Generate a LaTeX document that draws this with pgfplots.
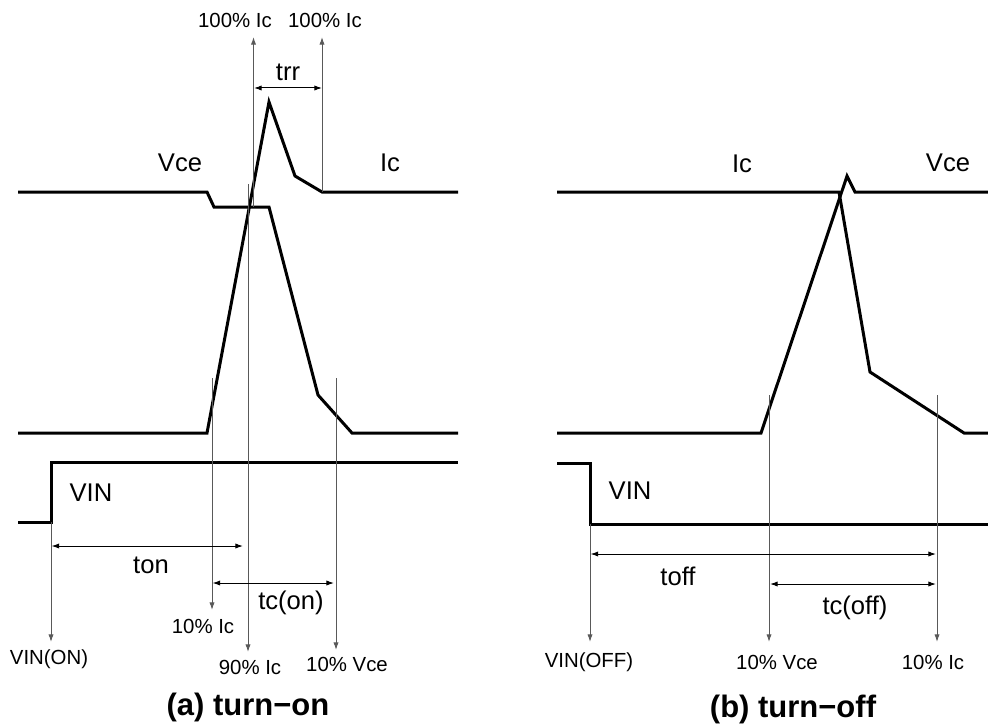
\documentclass[border=0pt]{standalone}
\usepackage{pgfplots}
\pgfplotsset{compat=1.18}
\usepackage{fontspec}
\setmainfont{Liberation Sans}
\usetikzlibrary{arrows.meta}
\begin{document}
\begin{tikzpicture}[
  wave/.style={black, line width=1.5pt, line join=miter},
  vl/.style={black!65, line width=0.5pt},
  arr/.style={-{Latex[length=3.8pt,width=2.6pt]}},
  darr/.style={{Latex[length=3.8pt,width=2.6pt]}-{Latex[length=3.8pt,width=2.6pt]}, black, line width=0.5pt},
  sm/.style={font=\fontsize{10.2}{12}\selectfont},
  md/.style={font=\fontsize{12.8}{15}\selectfont},
  ttl/.style={font=\fontsize{15.5}{18}\selectfont\bfseries},
]
\begin{axis}[name=ax, scale only axis, width=494pt, height=363.5pt,
  xmin=0, xmax=988, ymin=0, ymax=727, y dir=reverse,
  axis lines=none, clip=false]
% (a) turn-on
\addplot[wave] coordinates {(18,192) (207,192) (214,207) (269,207) (318,395) (352,433) (458,433)}; % Vce
\addplot[wave] coordinates {(18,433) (207,433) (269,102) (295,176) (322,192) (458,192)}; % Ic
\addplot[wave] coordinates {(18,522) (51,522) (51,462) (458,462)}; % VIN
% (b) turn-off
\addplot[wave] coordinates {(557,192) (839,192) (870,372) (964,433) (988,433)}; % Ic
\addplot[wave] coordinates {(557,433) (761,433) (847,176) (855,192) (988,192)}; % Vce
\addplot[wave] coordinates {(557,463) (590,463) (590,524) (988,524)}; % VIN

% markers, turn-on
\draw[vl,arr] (253.5,207) -- (253.5,37);
\draw[vl,arr] (322,192) -- (322,37);
\draw[darr] (254,88) -- (322,88);
\draw[vl,arr] (212,378) -- (212,610);
\draw[vl,arr] (248,184) -- (248,652);
\draw[vl,arr] (336,378) -- (336,650);
\draw[vl,arr] (51,522) -- (51,642);
\draw[darr] (51.5,546) -- (243,546);
\draw[darr] (212.5,583) -- (334,583);
% markers, turn-off
\draw[vl,arr] (590,524) -- (590,642);
\draw[vl,arr] (769,395) -- (769,642);
\draw[vl,arr] (937,395) -- (937,642);
\draw[darr] (590.5,554) -- (936,554);
\draw[darr] (770,584) -- (936,584);

% labels, turn-on
\node[sm] at (235,20) {100\% Ic};
\node[sm] at (325,20) {100\% Ic};
\node[md] at (288,72) {trr};
\node[md] at (180,163) {Vce};
\node[md] at (390,163) {Ic};
\node[md] at (91,493) {VIN};
\node[md] at (151,565) {ton};
\node[md] at (291,603) {tc(on)};
\node[sm] at (203,626) {10\% Ic};
\node[sm] at (250,667) {90\% Ic};
\node[sm] at (347,664) {10\% Vce};
\node[sm] at (49,659) {VIN(ON)};
\node[ttl] at (248,707) {(a) turn\textminus on};
% labels, turn-off
\node[md] at (742,164) {Ic};
\node[md] at (948,163) {Vce};
\node[md] at (630,491) {VIN};
\node[md] at (678,576) {toff};
\node[md] at (855,608) {tc(off)};
\node[sm] at (589,662) {VIN(OFF)};
\node[sm] at (777,662) {10\% Vce};
\node[sm] at (933,662) {10\% Ic};
\node[ttl] at (793,709) {(b) turn\textminus off};
\end{axis}
\pgfresetboundingbox
\path (ax.south west) rectangle (ax.north east);
\end{tikzpicture}
\end{document}
